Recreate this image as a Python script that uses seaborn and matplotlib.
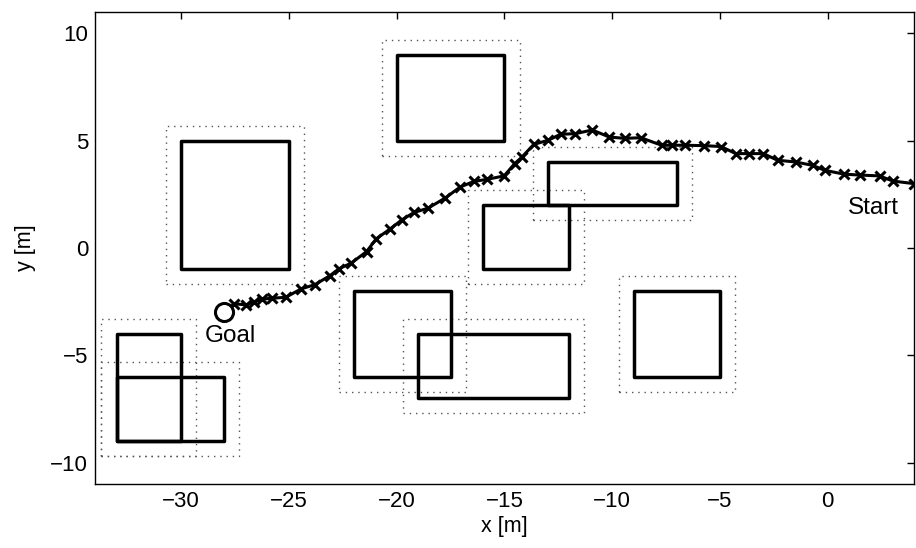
import numpy as np
import pandas as pd
import matplotlib
matplotlib.use("Agg")
import matplotlib.pyplot as plt
import matplotlib.patches as patches
import seaborn as sns

# obstacles: (x_min, y_min, width, height)
obstacles = [
    (-30, -1, 5, 6),
    (-20, 5, 5, 4),
    (-13, 2, 6, 2),
    (-16, -1, 4, 3),
    (-22, -6, 4.5, 4),
    (-19, -7, 7, 3),
    (-9, -6, 4, 4),
    (-33, -9, 3, 5),
    (-33, -9, 5, 3),
]
margin = 0.7

# planned path, start -> goal
path_x = [4.0, 3.02, 2.40, 1.49, 0.77, -0.14, -0.70, -1.49, -2.33, -2.99, -3.64, -4.27,
          -4.96, -5.73, -6.64, -7.21, -7.71, -8.68, -9.41, -10.13, -10.93, -11.71,
          -12.40, -12.98, -13.64, -14.19, -14.53, -15.02, -15.81, -16.43, -17.06,
          -17.75, -18.56, -19.19, -19.75, -20.33, -20.95, -21.40, -22.12, -22.67,
          -23.10, -23.80, -24.42, -25.16, -25.81, -26.27, -26.60, -27.00, -27.55, -28.0]
path_y = [3.0, 3.12, 3.36, 3.40, 3.44, 3.62, 3.85, 4.01, 4.09, 4.40, 4.40, 4.40,
          4.73, 4.77, 4.79, 4.79, 4.79, 5.14, 5.11, 5.17, 5.50, 5.33,
          5.30, 5.02, 4.83, 4.24, 3.93, 3.36, 3.20, 3.10, 2.84,
          2.33, 1.85, 1.66, 1.32, 0.87, 0.43, -0.17, -0.71, -0.96,
          -1.29, -1.71, -1.90, -2.30, -2.34, -2.39, -2.50, -2.65, -2.60, -3.0]
goal = (-28, -3)

x_ticks = [-30, -25, -20, -15, -10, -5, 0]
y_ticks = [-10, -5, 0, 5, 10]

sns.set_style("white")
plt.rcParams['font.family'] = ['Liberation Sans', 'DejaVu Sans']
plt.rcParams['text.color'] = 'black'
plt.rcParams['axes.labelcolor'] = 'black'

fig = plt.figure(figsize=(9.16, 5.48), dpi=100)
ax = fig.add_axes([95 / 916, 1 - 484 / 548, 819 / 916, 472 / 548])

for (x0, y0, w, h) in obstacles:
    ax.add_patch(patches.Rectangle((x0 - margin, y0 - margin), w + 2 * margin, h + 2 * margin,
                                   fill=False, edgecolor='#555555', linestyle=(0, (1, 3.5)),
                                   linewidth=1.0))
for (x0, y0, w, h) in obstacles:
    ax.add_patch(patches.Rectangle((x0, y0), w, h, fill=False, edgecolor='black',
                                   linewidth=2.5, joinstyle='round'))

df = pd.DataFrame({'x': path_x, 'y': path_y})
sns.lineplot(data=df, x='x', y='y', sort=False, estimator=None, color='black',
             linewidth=2.2, marker='x', markersize=7.5, markeredgewidth=2.2,
             markeredgecolor='black', ax=ax)
ax.plot(goal[0], goal[1], marker='o', markersize=13, markerfacecolor='white',
        markeredgecolor='black', markeredgewidth=2.2)

ax.text(2.1, 1.85, 'Start', ha='center', va='center', fontsize=17.5)
ax.text(-27.7, -4.1, 'Goal', ha='center', va='center', fontsize=17.5)

ax.set_xlim(-34, 4)
ax.set_ylim(-11, 11)
ax.set_xticks(x_ticks)
ax.set_yticks(y_ticks)
ax.tick_params(direction='in', length=5, width=1, top=True, right=True,
               labelsize=16, colors='black', pad=5)
ax.set_xlabel('x [m]', fontsize=15.5, labelpad=3)
ax.set_ylabel('y [m]', fontsize=15.5, labelpad=10)
for s in ax.spines.values():
    s.set_color('black')
    s.set_linewidth(1.0)

fig.savefig('out.png', dpi=100)
